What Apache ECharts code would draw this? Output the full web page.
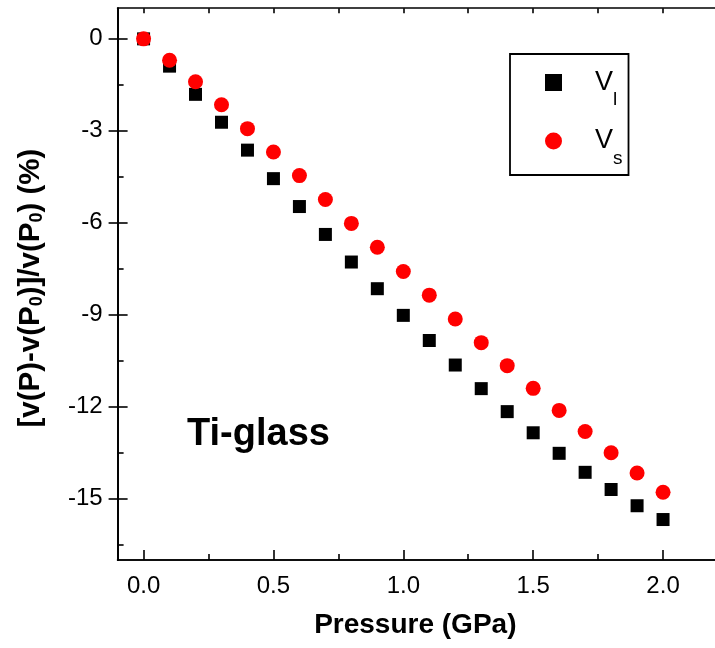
<!DOCTYPE html>
<html>
<head>
<meta charset="utf-8">
<style>
  html, body { margin: 0; padding: 0; background: #fff; }
  #chart { width: 715px; height: 648px; }
</style>
<script src="https://cdn.jsdelivr.net/npm/echarts@6.0.0/dist/echarts.min.js"></script>
</head>
<body>
<div id="chart"></div>
<script>
// Relative change of sound velocities with pressure, Ti-based metallic glass
const pressure = [0, 0.1, 0.2, 0.3, 0.4, 0.5, 0.6, 0.7, 0.8, 0.9, 1.0,
                  1.1, 1.2, 1.3, 1.4, 1.5, 1.6, 1.7, 1.8, 1.9, 2.0];
// longitudinal velocity change (%)
const vLong = [0, -0.89, -1.81, -2.72, -3.63, -4.56, -5.47, -6.38, -7.28, -8.15, -9.02,
               -9.84, -10.64, -11.41, -12.16, -12.85, -13.52, -14.14, -14.70, -15.23, -15.68];
// shear velocity change (%)
const vShear = [0, -0.70, -1.40, -2.15, -2.93, -3.69, -4.46, -5.24, -6.02, -6.80, -7.59,
                -8.36, -9.14, -9.91, -10.66, -11.40, -12.12, -12.81, -13.50, -14.16, -14.79];

const xMajorTicks = [0, 0.5, 1.0, 1.5, 2.0];
const xMinorTicks = [0.25, 0.75, 1.25, 1.75];
const xTopTicks = [0, 0.25, 0.5, 0.75, 1.0, 1.25, 1.5, 1.75, 2.0];
const yMajorTicks = [0, -3, -6, -9, -12, -15];
const yMinorTicks = [-1.5, -4.5, -7.5, -10.5, -13.5, -16.5];

const FONT = '"Liberation Sans", Arial, Helvetica, sans-serif';
const X_MIN = -0.1, X_MAX = 2.2, Y_MIN = -17, Y_MAX = 1;
const AXIS_LINE = { show: true, onZero: false, lineStyle: { color: '#000', width: 1.6 } };

function tickAxisX(ticks, len, pos, extra) {
  return Object.assign({
    type: 'value', min: X_MIN, max: X_MAX, position: pos,
    axisLine: AXIS_LINE,
    axisTick: { show: true, inside: true, length: len, customValues: ticks,
                lineStyle: { color: '#000', width: 1.6 } },
    axisLabel: { show: false },
    splitLine: { show: false }
  }, extra || {});
}
function tickAxisY(ticks, len, inside, extra) {
  return Object.assign({
    type: 'value', min: Y_MIN, max: Y_MAX, position: 'left',
    axisLine: AXIS_LINE,
    axisTick: { show: true, inside: inside, length: len, customValues: ticks,
                lineStyle: { color: '#000', width: 1.6 } },
    axisLabel: { show: false },
    splitLine: { show: false }
  }, extra || {});
}

const chart = echarts.init(document.getElementById('chart'), null, { renderer: 'canvas' });

chart.setOption({
  animation: false,
  backgroundColor: '#fff',
  textStyle: { fontFamily: FONT },
  grid: { left: 117.6, top: 8.2, bottom: 88, right: -9.8, containLabel: false },
  xAxis: [
    tickAxisX(xMajorTicks, 10, 'bottom', {
      name: 'Pressure (GPa)',
      nameLocation: 'middle',
      nameGap: 51,
      nameTextStyle: { fontFamily: FONT, fontSize: 28, fontWeight: 'bold', color: '#000',
                       padding: [0, 2, 0, 0] },
      axisLabel: { show: true, customValues: xMajorTicks, margin: 14,
                   fontFamily: FONT, fontSize: 24, color: '#000',
                   formatter: v => v.toFixed(1) }
    }),
    tickAxisX(xMinorTicks, 6, 'bottom'),
    tickAxisX(xTopTicks, 5, 'top')
  ],
  yAxis: [
    tickAxisY(yMajorTicks, 9, false, {
      name: '[v(P)-v(P{s|0})]/v(P{s|0}) (%)',
      nameLocation: 'middle',
      nameRotate: 90,
      nameGap: 72,
      nameTextStyle: {
        fontFamily: FONT, fontSize: 29.5, fontWeight: 'bold', color: '#000',
        padding: [0, 8, 0, 0],
        rich: {
          s: { fontFamily: FONT, fontSize: 18, fontWeight: 'bold', color: '#000',
               verticalAlign: 'bottom', lineHeight: 18 }
        }
      },
      axisLabel: { show: true, customValues: yMajorTicks, margin: 15,
                   fontFamily: FONT, fontSize: 24, color: '#000' }
    }),
    tickAxisY(yMajorTicks, 10, true),
    tickAxisY(yMinorTicks, 6, true)
  ],
  legend: {
    orient: 'vertical',
    left: 510, top: 54,
    padding: [15, 6, 7, 35],
    itemGap: 18,
    itemWidth: 17, itemHeight: 17,
    borderColor: '#000', borderWidth: 1.8,
    selectedMode: false,
    data: [
      { name: 'vl', icon: 'rect', itemStyle: { opacity: 1 } },
      { name: 'vs', icon: 'circle', itemStyle: { opacity: 1 } }
    ],
    formatter: name => '{v|V}{sub|' + name.slice(1) + '}',
    textStyle: {
      padding: [0, 0, 0, 28],
      rich: {
        v: { fontFamily: FONT, fontSize: 27, color: '#000', lineHeight: 54, verticalAlign: 'middle' },
        sub: { fontFamily: FONT, fontSize: 19, color: '#000', lineHeight: 20, verticalAlign: 'bottom' }
      }
    }
  },
  graphic: [
    {
      type: 'text', left: 187, top: 416,
      style: { text: 'Ti-glass', fontFamily: FONT, fontSize: 38, fontWeight: 'bold', fill: '#000' }
    }
  ],
  series: [
    {
      name: 'vl', type: 'scatter', xAxisIndex: 0, yAxisIndex: 0,
      symbol: 'rect', symbolSize: 13,
      itemStyle: { color: '#000', opacity: 1 },
      data: pressure.map((p, i) => [p, vLong[i]])
    },
    {
      name: 'vs', type: 'scatter', xAxisIndex: 0, yAxisIndex: 0,
      symbol: 'circle', symbolSize: 15,
      itemStyle: { color: '#ff0000', opacity: 1 },
      data: pressure.map((p, i) => [p, vShear[i]])
    }
  ]
});
</script>
</body>
</html>
